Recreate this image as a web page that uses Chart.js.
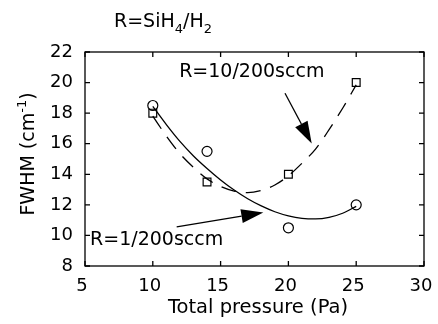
<!DOCTYPE html>
<html>
<head>
<meta charset="utf-8">
<script src="https://cdn.jsdelivr.net/npm/chart.js@4"></script>
<style>
  body { margin: 0; background: #fff; }
  #wrap { width: 438px; height: 324px; }
</style>
</head>
<body>
<div id="wrap"><canvas id="fwhm" width="438" height="324"></canvas></div>
<script>
// measured points
const pressure = [10, 14, 20, 25];
const fwhmLow = [18.5, 15.5, 10.5, 12];     // R=1/200sccm (circles)
const fwhmHigh = [18, 13.5, 14, 20];        // R=10/200sccm (squares)

// fitted curves
const fitX = [10, 11, 12, 13, 14, 15, 16, 17, 18, 19, 20, 21, 22, 23, 24, 25];
const fitLow = [18.45, 17.25, 16.15, 15.2, 14.38, 13.63, 12.97, 12.4, 11.93, 11.55, 11.28, 11.12, 11.08, 11.18, 11.45, 11.9];
const fitHigh = [17.8, 16.5, 15.35, 14.45, 13.7, 13.2, 12.9, 12.8, 12.95, 13.3, 13.9, 14.72, 15.65, 16.92, 18.32, 19.85];

const xTicks = [5, 10, 15, 20, 25, 30];
const yTicks = [8, 10, 12, 14, 16, 18, 20, 22];

// annotation arrows [tailX, tailY, tipX, tipY] in data units
const arrowHigh = [19.75, 19.3, 21.72, 16.02];
const arrowLow = [11.76, 10.56, 18.15, 11.5];

const FONT = '"DejaVu Sans", Arial, Helvetica, sans-serif';

function pts(xs, ys) {
    return xs.map((x, i) => ({ x: x, y: ys[i] }));
}

// text with sub/superscripts: parts = [[text, 'n'|'sub'|'sup'], ...]
function richText(ctx, parts, x, y, size) {
    let cx = x;
    parts.forEach(p => {
        const small = p[1] !== 'n';
        ctx.font = (small ? Math.round(size * 0.7) : size) + 'px ' + FONT;
        let dy = 0;
        if (p[1] === 'sub') dy = size * 0.3;
        if (p[1] === 'sup') dy = -size * 0.4;
        ctx.fillText(p[0], cx, y + dy);
        cx += ctx.measureText(p[0]).width;
    });
    return cx - x;
}

function richWidth(ctx, parts, size) {
    let w = 0;
    parts.forEach(p => {
        ctx.font = (p[1] !== 'n' ? Math.round(size * 0.7) : size) + 'px ' + FONT;
        w += ctx.measureText(p[0]).width;
    });
    return w;
}

function drawArrow(ctx, xs, ys, a) {
    const x0 = xs.getPixelForValue(a[0]), y0 = ys.getPixelForValue(a[1]);
    const x1 = xs.getPixelForValue(a[2]), y1 = ys.getPixelForValue(a[3]);
    const ang = Math.atan2(y1 - y0, x1 - x0);
    const len = 22, half = 7;
    const bx = x1 - len * Math.cos(ang), by = y1 - len * Math.sin(ang);
    ctx.beginPath();
    ctx.moveTo(x0, y0);
    ctx.lineTo(bx, by);
    ctx.stroke();
    ctx.beginPath();
    ctx.moveTo(x1, y1);
    ctx.lineTo(bx + half * Math.sin(ang), by - half * Math.cos(ang));
    ctx.lineTo(bx - half * Math.sin(ang), by + half * Math.cos(ang));
    ctx.closePath();
    ctx.fill();
}

const decorations = {
    id: 'decorations',
    afterDraw(chart) {
        const ctx = chart.ctx;
        const area = chart.chartArea;
        const xs = chart.scales.x, ys = chart.scales.y;
        ctx.save();
        ctx.strokeStyle = '#000';
        ctx.fillStyle = '#000';
        ctx.lineWidth = 1.3;

        // frame
        ctx.strokeRect(area.left, area.top, area.right - area.left, area.bottom - area.top);

        // inward ticks on all four sides
        const tl = 5;
        ctx.beginPath();
        xs.ticks.forEach(t => {
            const px = xs.getPixelForValue(t.value);
            ctx.moveTo(px, area.bottom); ctx.lineTo(px, area.bottom - tl);
            ctx.moveTo(px, area.top); ctx.lineTo(px, area.top + tl);
        });
        ys.ticks.forEach(t => {
            const py = ys.getPixelForValue(t.value);
            ctx.moveTo(area.left, py); ctx.lineTo(area.left + tl, py);
            ctx.moveTo(area.right, py); ctx.lineTo(area.right - tl, py);
        });
        ctx.stroke();

        // title
        ctx.textBaseline = 'alphabetic';
        ctx.textAlign = 'left';
        richText(ctx, [['R=SiH', 'n'], ['4', 'sub'], ['/H', 'n'], ['2', 'sub']], 114, 27, 19);

        // x axis title
        ctx.font = '19.5px ' + FONT;
        ctx.textAlign = 'center';
        ctx.fillText('Total pressure (Pa)', 258, 313);

        // y axis title, rotated
        ctx.textAlign = 'left';
        const yParts = [['FWHM (cm', 'n'], ['-1', 'sup'], [')', 'n']];
        const yw = richWidth(ctx, yParts, 19);
        ctx.save();
        ctx.translate(34, 154);
        ctx.rotate(-Math.PI / 2);
        richText(ctx, yParts, -yw / 2, 0, 19);
        ctx.restore();

        // series labels and arrows
        ctx.font = '19px ' + FONT;
        ctx.textBaseline = 'middle';
        ctx.textAlign = 'center';
        ctx.fillText('R=10/200sccm', xs.getPixelForValue(17.3), ys.getPixelForValue(20.7));
        ctx.textAlign = 'left';
        ctx.fillText('R=1/200sccm', xs.getPixelForValue(5.37), ys.getPixelForValue(9.7));
        drawArrow(ctx, xs, ys, arrowHigh);
        drawArrow(ctx, xs, ys, arrowLow);
        ctx.restore();
    }
};

new Chart(document.getElementById('fwhm').getContext('2d'), {
    type: 'scatter',
    data: {
        datasets: [
            {
                data: pts(pressure, fwhmLow),
                pointStyle: 'circle',
                pointRadius: 5,
                borderColor: '#000',
                backgroundColor: 'transparent',
                borderWidth: 1.2
            },
            {
                data: pts(pressure, fwhmHigh),
                pointStyle: 'rect',
                pointRadius: 5.5,
                borderColor: '#000',
                backgroundColor: 'transparent',
                borderWidth: 1.2
            },
            {
                data: pts(fitX, fitLow),
                showLine: true,
                pointRadius: 0,
                borderColor: '#000',
                borderWidth: 1.3,
                cubicInterpolationMode: 'monotone'
            },
            {
                data: pts(fitX, fitHigh),
                showLine: true,
                pointRadius: 0,
                borderColor: '#000',
                borderWidth: 1.3,
                borderDash: [15, 10],
                cubicInterpolationMode: 'monotone'
            }
        ]
    },
    options: {
        responsive: false,
        animation: false,
        layout: { padding: { top: 52, right: 14, bottom: 0, left: 0 } },
        plugins: { legend: { display: false }, tooltip: { enabled: false } },
        scales: {
            x: {
                type: 'linear',
                min: 5, max: 30,
                afterBuildTicks: s => { s.ticks = xTicks.map(v => ({ value: v })); },
                afterFit: s => { s.height = 58; },
                grid: { display: false },
                border: { display: false },
                ticks: { color: '#000', padding: 2, labelOffset: -3, font: { family: FONT, size: 18 } }
            },
            y: {
                type: 'linear',
                min: 8, max: 22,
                afterBuildTicks: s => { s.ticks = yTicks.map(v => ({ value: v })); },
                afterFit: s => { s.width = 85; },
                grid: { display: false },
                border: { display: false },
                ticks: { color: '#000', padding: 4, font: { family: FONT, size: 18 } }
            }
        }
    },
    plugins: [decorations]
});
</script>
</body>
</html>
